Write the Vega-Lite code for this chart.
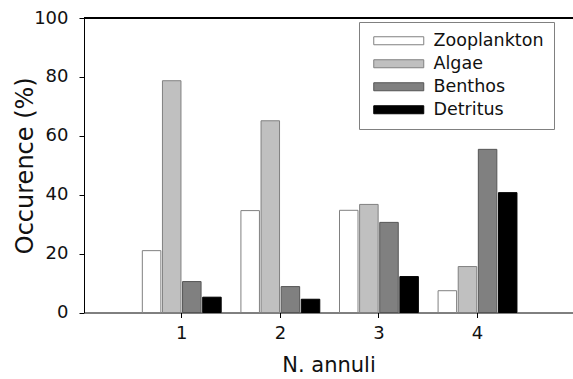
{
  "$schema": "https://vega.github.io/schema/vega-lite/v6.json",
  "width": 489,
  "height": 294.5,
  "autosize": {"type": "none"},
  "padding": {"left": 84, "top": 18, "right": 0, "bottom": 66},
  "config": {
    "view": {"stroke": null},
    "font": "DejaVu Sans",
    "axis": {
      "domainColor": "#000000",
      "tickColor": "#000000",
      "labelColor": "#111111",
      "titleColor": "#111111",
      "grid": false,
      "labelFont": "DejaVu Sans",
      "titleFont": "DejaVu Sans",
      "titleFontWeight": "normal"
    }
  },
  "data": {
    "values": [
      {"annuli": "1", "food": "Zooplankton", "value": 21.0},
      {"annuli": "1", "food": "Algae", "value": 78.7},
      {"annuli": "1", "food": "Benthos", "value": 10.5},
      {"annuli": "1", "food": "Detritus", "value": 5.2},
      {"annuli": "2", "food": "Zooplankton", "value": 34.6},
      {"annuli": "2", "food": "Algae", "value": 65.1},
      {"annuli": "2", "food": "Benthos", "value": 8.8},
      {"annuli": "2", "food": "Detritus", "value": 4.5},
      {"annuli": "3", "food": "Zooplankton", "value": 34.7},
      {"annuli": "3", "food": "Algae", "value": 36.7},
      {"annuli": "3", "food": "Benthos", "value": 30.6},
      {"annuli": "3", "food": "Detritus", "value": 12.2},
      {"annuli": "4", "food": "Zooplankton", "value": 7.4},
      {"annuli": "4", "food": "Algae", "value": 15.6},
      {"annuli": "4", "food": "Benthos", "value": 55.4},
      {"annuli": "4", "food": "Detritus", "value": 40.7}
    ]
  },
  "layer": [
    {
      "mark": {"type": "bar", "strokeWidth": 1},
      "encoding": {
        "x": {
          "field": "annuli",
          "type": "nominal",
          "scale": {"domain": ["1", "2", "3", "4"], "paddingInner": 0.2, "paddingOuter": 0.58, "align": 0.51},
          "axis": {"title": "N. annuli", "labelAngle": 0, "labelFontSize": 18, "tickSize": 5, "labelPadding": 7, "titleFontSize": 21, "titlePadding": 12}
        },
        "xOffset": {
          "field": "food",
          "type": "nominal",
          "scale": {"domain": ["Zooplankton", "Algae", "Benthos", "Detritus"], "paddingInner": 0.08}
        },
        "y": {
          "field": "value",
          "type": "quantitative",
          "scale": {"domain": [0, 100]},
          "axis": {"values": [0, 20, 40, 60, 80, 100], "title": "Occurence (%)", "titleFontSize": 24, "labelFontSize": 18, "tickSize": 5, "labelPadding": 11, "titlePadding": -4}
        },
        "fill": {
          "field": "food",
          "type": "nominal",
          "scale": {"domain": ["Zooplankton", "Algae", "Benthos", "Detritus"], "range": ["#ffffff", "#c0c0c0", "#808080", "#000000"]},
          "legend": {"title": null, "orient": "none", "legendX": 275, "legendY": 4, "strokeColor": "#808080", "fillColor": "#ffffff", "padding": 10, "symbolType": "M-1,-1H11.5V1H-1Z", "symbolSize": 64, "symbolStrokeWidth": 1, "labelFontSize": 17.5, "labelOffset": 47, "rowPadding": 4, "labelFont": "DejaVu Sans", "labelColor": "#111111"}
        },
        "stroke": {
          "field": "food",
          "type": "nominal",
          "scale": {"domain": ["Zooplankton", "Algae", "Benthos", "Detritus"], "range": ["#808080", "#808080", "#555555", "#000000"]},
          "legend": {"title": null, "orient": "none", "legendX": 275, "legendY": 4, "strokeColor": "#808080", "fillColor": "#ffffff", "padding": 10, "symbolType": "M-1,-1H11.5V1H-1Z", "symbolSize": 64, "symbolStrokeWidth": 1, "labelFontSize": 17.5, "labelOffset": 47, "rowPadding": 4, "labelFont": "DejaVu Sans", "labelColor": "#111111"}
        }
      }
    },
    {
      "mark": {"type": "rule", "color": "#000000", "strokeWidth": 1},
      "encoding": {"y": {"datum": 100}}
    }
  ]
}
